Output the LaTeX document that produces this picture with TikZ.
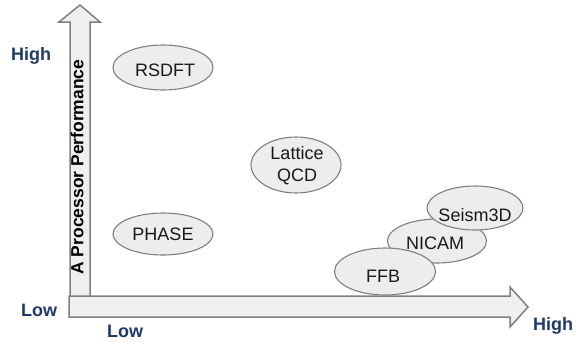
\documentclass[tikz,border=0pt]{standalone}
\usepackage{fontspec}
\setmainfont{Liberation Sans}
\usetikzlibrary{shapes.geometric}
\definecolor{axisfill}{HTML}{EFEFEF}
\definecolor{axisline}{HTML}{7F7F7F}
\definecolor{navy}{HTML}{1F3A68}
\definecolor{ellfill}{HTML}{EDEDED}
\tikzset{
  bigarrow/.style={draw=axisline, fill=axisfill, line width=1.5pt, line join=miter},
  app/.style={ellipse, draw=axisline, fill=ellfill, line width=1.1pt, inner sep=0pt},
  apptext/.style={font=\fontsize{18}{22}\selectfont, align=center, text=black!90, inner sep=0pt},
  axlabel/.style={font=\fontsize{18}{20}\selectfont\bfseries, text=navy, inner sep=0pt, anchor=base},
}
\begin{document}
\begin{tikzpicture}[x=1pt, y=-1pt]
\useasboundingbox (0,0) rectangle (580,341);
% vertical arrow
\draw[bigarrow] (70,296) -- (70,22) -- (59,22) -- (80,5) -- (100,22) -- (90,22) -- (90,296);
% horizontal arrow
\draw[bigarrow] (69,296) -- (510,296) -- (510,287) -- (528,307) -- (510,327) -- (510,317) -- (69,317) -- cycle;
\node[rotate=90, font=\fontsize{17.5}{20}\selectfont\bfseries, inner sep=0pt] (ylab) at (77,167) {A Processor Performance};
% axis labels
\node[axlabel] (yhigh) at (31,60) {High};
\node[axlabel] (ylow) at (39,316) {Low};
\node[axlabel] (xlow) at (125,337) {Low};
\node[axlabel] (xhigh) at (553,330) {High};
% applications
\node[app, minimum width=100pt, minimum height=45pt] (rsdft) at (163,67.5) {};
\node[apptext] (rsdftt) at (165,70) {RSDFT};
\node[app, minimum width=100pt, minimum height=42pt] (phase) at (163,234) {};
\node[apptext] (phaset) at (163,234.5) {PHASE};
\node[app, minimum width=90pt, minimum height=56pt] (lqcd) at (296,165) {};
\node[apptext] (lqcdt) at (297,166) {Lattice\\QCD};
\node[app, minimum width=99pt, minimum height=44pt] (nicam) at (437,241) {};
\node[apptext] (nicamt) at (435,243) {NICAM};
\node[app, minimum width=96pt, minimum height=44pt] (seism) at (475,208) {};
\node[apptext] (seismt) at (475,215) {Seism3D};
\node[app, minimum width=101pt, minimum height=47pt] (ffb) at (385,271.5) {};
\node[apptext] (ffbt) at (383,276.5) {FFB};
\end{tikzpicture}
\end{document}
